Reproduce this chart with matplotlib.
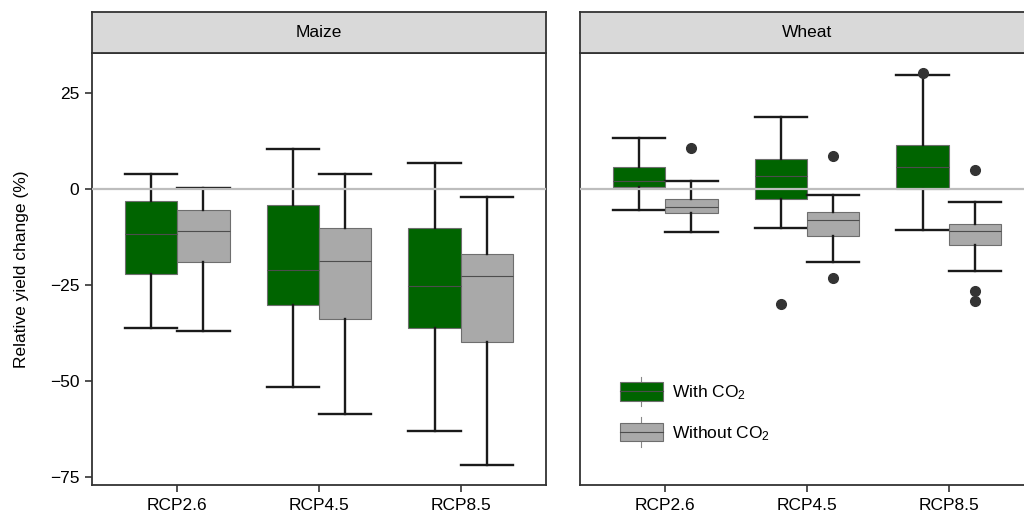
import matplotlib
matplotlib.use("Agg")
import matplotlib.pyplot as plt
from matplotlib.patches import Rectangle
from matplotlib.lines import Line2D
from matplotlib.legend_handler import HandlerBase

plt.rcParams['font.family'] = ['Liberation Sans', 'DejaVu Sans']
plt.rcParams['mathtext.default'] = 'regular'

# Data
categories = ['RCP2.6', 'RCP4.5', 'RCP8.5']
panels = ['Maize', 'Wheat']

maize_co2_whislo = [-36.3, -51.5, -63.1]
maize_co2_q1 = [-22.1, -30.2, -36.2]
maize_co2_med = [-11.8, -21.1, -25.3]
maize_co2_q3 = [-3.1, -4.2, -10.2]
maize_co2_whishi = [4.0, 10.3, 6.7]
maize_co2_fliers = [[], [], []]

maize_noco2_whislo = [-37.0, -58.6, -72.0]
maize_noco2_q1 = [-18.9, -34.0, -39.8]
maize_noco2_med = [-11.0, -18.8, -22.7]
maize_noco2_q3 = [-5.5, -10.3, -16.9]
maize_noco2_whishi = [0.3, 3.8, -2.2]
maize_noco2_fliers = [[], [], []]

wheat_co2_whislo = [-5.6, -10.2, -10.7]
wheat_co2_q1 = [0.6, -2.6, -0.1]
wheat_co2_med = [2.1, 3.3, 5.6]
wheat_co2_q3 = [5.6, 7.7, 11.5]
wheat_co2_whishi = [13.3, 18.7, 29.6]
wheat_co2_fliers = [[], [-29.9], [30.3]]

wheat_noco2_whislo = [-11.3, -19.0, -21.4]
wheat_noco2_q1 = [-6.2, -12.2, -14.7]
wheat_noco2_med = [-4.7, -8.0, -11.0]
wheat_noco2_q3 = [-2.5, -5.9, -9.1]
wheat_noco2_whishi = [2.0, -1.7, -3.4]
wheat_noco2_fliers = [[10.7], [8.7, -23.2], [5.0, -26.7, -29.1]]

green = '#006400'
grey = '#A9A9A9'


def make_stats(whislo, q1, med, q3, whishi, fliers):
    return [dict(whislo=a, q1=b, med=c, q3=d, whishi=e, fliers=f)
            for a, b, c, d, e, f in zip(whislo, q1, med, q3, whishi, fliers)]


stats = {
    'Maize': (make_stats(maize_co2_whislo, maize_co2_q1, maize_co2_med,
                         maize_co2_q3, maize_co2_whishi, maize_co2_fliers),
              make_stats(maize_noco2_whislo, maize_noco2_q1, maize_noco2_med,
                         maize_noco2_q3, maize_noco2_whishi, maize_noco2_fliers)),
    'Wheat': (make_stats(wheat_co2_whislo, wheat_co2_q1, wheat_co2_med,
                         wheat_co2_q3, wheat_co2_whishi, wheat_co2_fliers),
              make_stats(wheat_noco2_whislo, wheat_noco2_q1, wheat_noco2_med,
                         wheat_noco2_q3, wheat_noco2_whishi, wheat_noco2_fliers)),
}

W, H = 1024, 514
fig = plt.figure(figsize=(W / 100, H / 100), dpi=100)

ax_left = [92, 580]
ax_w = 454
ax_top, ax_bot = 53, 485
strip_top = 12

width = 0.37
offset = 0.185
positions = [1, 2, 3]
fs = 12.5

for i, name in enumerate(panels):
    x0 = ax_left[i]
    ax = fig.add_axes([x0 / W, (H - ax_bot) / H, ax_w / W, (ax_bot - ax_top) / H])
    sax = fig.add_axes([x0 / W, (H - ax_top) / H, ax_w / W, (ax_top - strip_top) / H])

    s_with, s_without = stats[name]
    for st, col, sign in [(s_with, green, -1), (s_without, grey, 1)]:
        ax.bxp(st, positions=[p + sign * offset for p in positions],
               widths=width, patch_artist=True, showfliers=True,
               boxprops=dict(facecolor=col, edgecolor='#6E6E6E', linewidth=0.8),
               medianprops=dict(color='#4D4D4D', linewidth=0.8),
               whiskerprops=dict(color='#1A1A1A', linewidth=1.7),
               capprops=dict(color='#1A1A1A', linewidth=1.7),
               capwidths=width,
               flierprops=dict(marker='o', markerfacecolor='#333333',
                               markeredgecolor='#333333', markersize=7),
               manage_ticks=False)

    ax.axhline(0, color='#BDBDBD', linewidth=1.6, zorder=5)
    ax.set_xlim(0.4, 3.6)
    ax.set_ylim(-77.1, 35.4)
    ax.set_xticks(positions)
    ax.set_xticklabels(categories, fontsize=fs)
    ax.set_yticks([25, 0, -25, -50, -75])
    ax.set_yticklabels(['25', '0', '\u221225', '\u221250', '\u221275'], fontsize=fs)
    ax.tick_params(direction='out', length=5, width=1.2, color='#333333',
                   labelcolor='black', pad=4)
    for sp in ax.spines.values():
        sp.set_color('#333333')
        sp.set_linewidth(1.3)
    if i == 1:
        ax.tick_params(axis='y', left=False, labelleft=False)
    else:
        ax.set_ylabel('Relative yield change (%)', fontsize=fs, labelpad=15)

    sax.set_facecolor('#D9D9D9')
    sax.set_xticks([])
    sax.set_yticks([])
    for sp in sax.spines.values():
        sp.set_color('#333333')
        sp.set_linewidth(1.3)
    sax.text(0.5, 0.5, name, transform=sax.transAxes, ha='center',
             va='center', fontsize=fs)

    if i == 1:
        legend_ax = ax


class BoxHandler(HandlerBase):
    def __init__(self, color):
        super().__init__()
        self.color = color

    def create_artists(self, legend, orig_handle, xdescent, ydescent,
                       width, height, fontsize, trans):
        cx = width / 2 - xdescent
        vline = Line2D([cx, cx], [-ydescent - height * 0.3, height * 1.3 - ydescent],
                       color='#888888', linewidth=0.8, transform=trans)
        rect = Rectangle((-xdescent, -ydescent), width, height, facecolor=self.color,
                         edgecolor='#6E6E6E', linewidth=0.8, transform=trans)
        med = Line2D([-xdescent, width - xdescent],
                     [height / 2 - ydescent, height / 2 - ydescent],
                     color='#4D4D4D', linewidth=0.8, transform=trans)
        return [vline, rect, med]


h1 = Rectangle((0, 0), 1, 1)
h2 = Rectangle((0, 0), 1, 1, label='b')
leg = legend_ax.legend([h1, h2], ['With CO$_2$', 'Without CO$_2$'],
                       handler_map={h1: BoxHandler(green), h2: BoxHandler(grey)},
                       loc='center left', bbox_to_anchor=(0.053, 0.168),
                       bbox_transform=legend_ax.transAxes,
                       frameon=False, fontsize=fs, handlelength=2.5,
                       handleheight=1.25, labelspacing=1.2, handletextpad=0.5)

fig.savefig('out.png', dpi=100)
